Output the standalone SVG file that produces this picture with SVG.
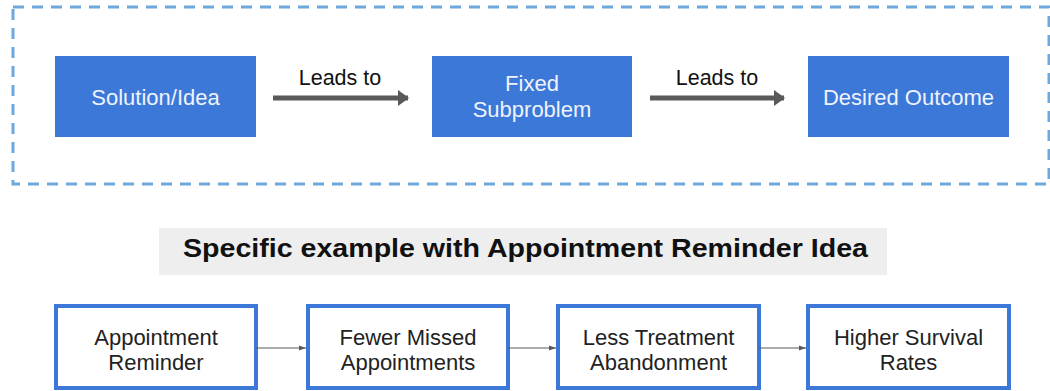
<svg xmlns="http://www.w3.org/2000/svg" width="1050" height="391" viewBox="0 0 1050 391">
<style>
.solid{fill:#3c78d8}
.wt{font-family:"Liberation Sans",Arial,sans-serif;font-size:22px;fill:#eef3fd;text-anchor:middle}
.bt{font-family:"Liberation Sans",Arial,sans-serif;font-size:22px;fill:#222;text-anchor:middle}
.lbl{font-family:"Liberation Sans",Arial,sans-serif;font-size:21.5px;fill:#111;text-anchor:middle}
.outl{fill:#fff;stroke:#3c78d8;stroke-width:4}
.thick{stroke:#595959;stroke-width:5;fill:none}
.thin{stroke:#595959;stroke-width:1;fill:none}
</style>
<defs>
<marker id="ah" markerWidth="4" markerHeight="4" refX="2" refY="2" orient="auto" markerUnits="strokeWidth"><path d="M0,0.4 L2.2,2 L0,3.6 Z" fill="#595959"/></marker>
<marker id="ahs" markerWidth="8" markerHeight="6" refX="7" refY="3" orient="auto" markerUnits="userSpaceOnUse"><path d="M0,0.5 L7,3 L0,5.5 Z" fill="#595959"/></marker>
</defs>
<rect x="0" y="0" width="1050" height="391" fill="#fff"/>
<rect id="frame" x="13" y="7" width="1036" height="177" fill="none" stroke="#6fa8dc" stroke-width="3" stroke-dasharray="11 8"/>
<g id="n1"><rect class="solid" x="55" y="56" width="201" height="81"/><text class="wt" x="155.5" y="105">Solution/Idea</text></g>
<g id="n2"><rect class="solid" x="432" y="56" width="200" height="81"/><text class="wt" x="532" y="91">Fixed</text><text class="wt" x="532" y="117">Subproblem</text></g>
<g id="n3"><rect class="solid" x="808" y="56" width="201" height="81"/><text class="wt" x="908.5" y="105">Desired Outcome</text></g>
<g id="title"><rect x="159" y="228" width="728" height="47" fill="#eeeeee"/><text x="525.5" y="257" font-family="'Liberation Sans',Arial,sans-serif" font-size="26" font-weight="bold" fill="#111" text-anchor="middle" textLength="685" lengthAdjust="spacingAndGlyphs">Specific example with Appointment Reminder Idea</text></g>
<g id="b1"><rect class="outl" x="56" y="306" width="200" height="82"/><text class="bt" x="156" y="345">Appointment</text><text class="bt" x="156" y="370">Reminder</text></g>
<g id="b2"><rect class="outl" x="308" y="306" width="200" height="82"/><text class="bt" x="408" y="345">Fewer Missed</text><text class="bt" x="408" y="370">Appointments</text></g>
<g id="b3"><rect class="outl" x="558" y="306" width="201" height="82"/><text class="bt" x="658.5" y="345">Less Treatment</text><text class="bt" x="658.5" y="370">Abandonment</text></g>
<g id="b4"><rect class="outl" x="808" y="306" width="201" height="82"/><text class="bt" x="908.5" y="345">Higher Survival</text><text class="bt" x="908.5" y="370">Rates</text></g>
<g id="connectors">
<line class="thick" x1="273" y1="98" x2="408" y2="98" marker-end="url(#ah)"/>
<text class="lbl" x="340" y="85">Leads to</text>
<line class="thick" x1="650" y1="98" x2="784" y2="98" marker-end="url(#ah)"/>
<text class="lbl" x="717" y="85">Leads to</text>
<line class="thin" x1="256" y1="348" x2="306" y2="348" marker-end="url(#ahs)"/>
<line class="thin" x1="508" y1="348" x2="556" y2="348" marker-end="url(#ahs)"/>
<line class="thin" x1="759" y1="348" x2="806" y2="348" marker-end="url(#ahs)"/>
</g>
</svg>
